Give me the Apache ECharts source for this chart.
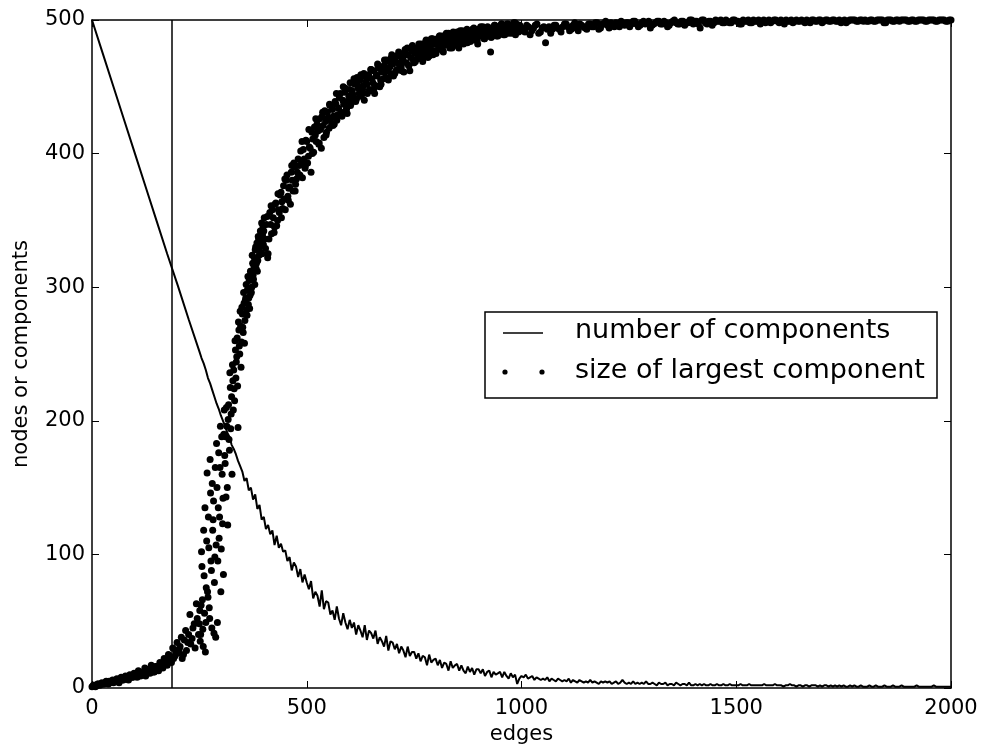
<!DOCTYPE html>
<html>
<head>
<meta charset="utf-8">
<script src="https://cdn.jsdelivr.net/npm/echarts@6/dist/echarts.min.js"></script>
<style>
html,body{margin:0;padding:0;background:#fff;overflow:hidden;}
#chart{width:984px;height:746px;}
</style>
</head>
<body>
<div id="chart"></div>
<script>
// ---- data ----
// x axis: edges; y axis: nodes or components
var xTicks = [0, 500, 1000, 1500, 2000];
var yTicks = [0, 100, 200, 300, 400, 500];
var thresholdEdges = 186;

// number of components, edges 0..225 sampled every 25 edges
var compHeadStart = 0, compHeadStep = 25;
var compHead = [500, 475, 450, 425, 400, 375, 350, 325, 301, 276];
// number of components, edges 250..2000 sampled every 5 edges
var compTailStart = 250, compTailStep = 5;
var compTail = [
  252,247,243,238,232,228,223,218,213,209,
  204,200,196,191,188,182,179,175,170,166,
  162,155,157,148,150,141,145,134,137,126,
  128,119,122,115,118,107,114,105,108,102,
  103,95,98,88,94,91,83,89,79,85,
  79,74,80,67,72,69,61,73,59,65,
  64,55,58,51,61,52,47,56,49,44,
  51,45,49,40,47,43,38,47,36,43,
  41,37,43,33,38,35,31,39,28,35,
  34,29,33,26,31,28,23,31,24,27,
  27,22,26,20,24,23,17,25,19,21,
  22,17,21,15,19,18,13,20,15,17,
  18,13,17,13,11,16,12,15,10,14,
  14,11,14,9,12,13,8,12,10,11,
  12,8,12,9,7,11,8,10,3,7,
  9,8,10,7,8,9,6,8,7,6,
  7,6,8,5,7,6,5,7,6,5,
  6,5,7,4,6,5,4,6,5,4,
  5,4,6,4,5,4,3,5,4,5,
  4,5,3,4,5,3,4,6,4,3,
  4,3,5,3,4,3,4,3,5,3,
  3,4,3,2,4,3,3,4,2,3,
  3,2,4,3,2,3,3,2,4,2,
  2,3,2,3,2,3,2,2,3,2,
  2,3,2,2,3,2,2,3,2,2,
  2,2,3,2,2,2,3,2,2,2,
  2,2,2,3,2,2,2,2,3,2,
  2,2,1,2,2,3,2,2,1,2,
  2,1,2,2,1,2,2,2,1,2,
  1,2,2,1,2,1,2,1,2,1,
  2,1,1,2,1,2,1,1,2,1,
  1,1,2,1,1,2,1,1,1,2,
  1,1,1,2,1,1,1,2,1,1,
  1,1,1,1,2,1,1,1,1,1,
  1,1,2,1,1,1,1,1,1,1,1
];

// size of largest component, edges 0..245 every 5
var largestAStart = 0, largestAStep = 5;
var largestA = [
  1,2,2,3,3,3,4,4,5,5,
  4,6,5,7,6,8,7,6,9,8,
  9,8,11,10,12,9,13,11,14,12,
  16,13,18,15,20,17,24,19,22,28,
  26,31,22,36,28,40,33,45,30,52
];
// edges 3..248 every 5
var largestA2Start = 3, largestA2Step = 5;
var largestA2 = [
  2,1,3,2,4,3,5,3,4,6,
  5,7,4,8,6,9,7,10,8,11,
  10,13,9,12,15,11,14,17,12,16,
  14,19,16,22,18,25,21,30,24,34,
  29,38,25,43,34,55,37,48,63,40
];
// edges 250..398 every 2
var largestBStart = 250, largestBStep = 2;
var largestB = [
  48,35,62,91,44,118,56,27,75,161,
  68,105,52,146,88,153,126,41,98,38,
  183,49,135,112,165,72,188,123,85,208,
  168,143,196,122,212,178,225,205,160,230,
  238,215,253,244,262,195,268,250,271,259,
  280,266,288,275,292,283,298,287,305,294,
  312,300,318,306,322,328,314,333,320,336,
  330,342,334,325,345
];
// edges 251..399 every 2
var largestB2Start = 251, largestB2Step = 2;
var largestB2 = [
  58,40,102,66,31,84,135,49,110,72,
  128,60,171,95,45,118,140,79,165,107,
  150,95,176,128,196,104,160,142,190,174,
  188,210,150,201,186,236,194,218,242,208,
  224,260,232,248,226,274,256,282,240,285,
  270,296,258,290,302,279,308,292,284,312,
  296,324,309,316,302,330,318,312,338,324,
  338,326,348,339,332
];
// edges 400..996 every 4
var largestCStart = 400, largestCStep = 4;
var largestC = [
  342,329,353,336,347,358,341,363,350,356,
  371,359,366,380,368,375,386,372,390,381,
  396,384,392,403,389,409,398,404,416,401,
  414,422,407,418,428,412,424,431,419,426,
  433,422,437,429,442,431,440,446,433,439,
  448,438,444,452,441,449,455,444,451,458,
  452,459,447,456,462,451,458,464,455,461,
  466,457,463,469,460,467,472,462,468,473,
  465,471,476,468,474,462,477,470,475,479,
  472,477,481,474,479,483,476,480,484,477,
  482,486,479,484,488,481,485,489,483,487,
  484,489,486,482,490,487,485,491,488,486,
  491,488,492,486,490,493,489,491,494,488,
  492,490,476,493,491,495,489,494,492,490,
  495,492,494,496,491,495,493,497,494,496
];
// edges 402..998 every 4
var largestC2Start = 402, largestC2Step = 4;
var largestC2 = [
  336,347,325,356,340,352,362,346,358,369,
  364,376,358,384,374,362,380,393,377,386,
  391,402,382,396,410,393,405,386,411,420,
  409,417,426,404,421,432,416,427,436,422,
  428,439,425,434,445,428,437,449,430,443,
  436,447,456,439,452,445,459,448,440,454,
  457,448,463,453,445,459,466,450,462,456,
  461,470,455,465,474,458,469,463,476,466,
  470,461,474,479,466,472,481,468,476,471,
  475,482,469,478,485,472,480,486,474,482,
  485,478,488,483,476,487,482,490,485,479,
  488,483,491,479,486,492,484,489,483,490,
  487,493,485,490,482,492,488,495,486,491,
  489,494,487,492,496,488,493,490,497,489,
  493,497,490,495,492,498,489,494,496,492
];
// edges 401..993 every 8
var largestC3Start = 401, largestC3Step = 8;
var largestC3 = [
  352,322,361,345,370,352,381,365,391,372,
  383,409,391,418,400,426,408,431,414,437,
  421,445,429,450,434,453,440,457,443,460,
  445,463,449,467,452,470,456,472,460,474,
  462,478,466,480,469,482,471,484,473,486,
  475,488,477,490,479,491,481,492,482,493,
  484,494,485,495,486,495,487,496,488,497,
  489,497,490,498,491
];
// edges 1000..2000 every 8
var largestDStart = 1000, largestDStep = 8;
var largestD = [
  494,491,495,492,496,490,494,483,495,493,
  496,493,495,497,492,496,494,497,495,493,
  497,495,498,494,497,496,498,495,497,499,
  496,498,497,499,495,498,497,499,496,498,
  499,497,498,496,499,498,497,499,498,500,
  497,499,494,500,497,499,498,499,500,498,
  499,498,500,499,497,499,500,498,499,500,
  499,498,500,499,500,498,499,500,499,498,
  500,499,499,500,498,500,499,500,499,500,
  499,500,499,498,500,499,500,500,499,500,
  500,499,500,499,500,500,498,500,499,500,
  499,500,500,499,500,499,500,500,499,500,
  500,499,500,500,499,500
];
// edges 1004..1996 every 8
var largestD2Start = 1004, largestD2Step = 8;
var largestD2 = [
  492,496,489,494,497,491,495,493,490,496,
  494,491,497,495,493,498,492,496,494,497,
  495,498,493,497,499,494,496,498,495,497,
  498,495,499,497,496,499,498,494,497,499,
  497,499,495,498,500,497,499,496,498,500,
  499,497,500,498,499,496,500,499,498,500,
  498,500,499,497,500,499,498,500,499,497,
  500,499,498,500,499,500,497,499,500,499,
  499,500,498,499,500,499,500,498,500,499,
  500,499,500,499,498,500,500,499,500,499,
  499,500,499,500,500,498,500,500,499,500,
  500,500,499,500,499,500,500,499,500,500,
  499,500,500,499,500
];

function toPairs(start, step, vals) {
  return vals.map(function (v, i) { return [start + i * step, v]; });
}

var compData = toPairs(compHeadStart, compHeadStep, compHead)
  .concat(toPairs(compTailStart, compTailStep, compTail));
var largestData = []
  .concat(toPairs(largestAStart, largestAStep, largestA))
  .concat(toPairs(largestA2Start, largestA2Step, largestA2))
  .concat(toPairs(largestBStart, largestBStep, largestB))
  .concat(toPairs(largestB2Start, largestB2Step, largestB2))
  .concat(toPairs(largestCStart, largestCStep, largestC))
  .concat(toPairs(largestC2Start, largestC2Step, largestC2))
  .concat(toPairs(largestC3Start, largestC3Step, largestC3))
  .concat(toPairs(largestDStart, largestDStep, largestD))
  .concat(toPairs(largestD2Start, largestD2Step, largestD2));

var FONT = '"DejaVu Sans", "Liberation Sans", sans-serif';
var chart = echarts.init(document.getElementById('chart'), null, {renderer: 'canvas', width: 984, height: 746});

function plain(v) { return String(v); }

function axisCommon(extra) {
  var base = {
    type: 'value',
    splitLine: {show: false},
    axisLine: {show: true, onZero: false, lineStyle: {color: '#000', width: 1.5}},
    axisTick: {show: true, inside: true, length: 7, lineStyle: {color: '#000', width: 1}},
    axisLabel: {show: true, color: '#000', fontSize: 21, fontFamily: FONT, margin: 9, formatter: plain}
  };
  for (var k in extra) base[k] = extra[k];
  return base;
}

var option = {
  animation: false,
  backgroundColor: '#fff',
  grid: {left: 92, top: 20, width: 859, height: 668, containLabel: false, outerBoundsMode: 'none'},
  xAxis: [
    axisCommon({min: xTicks[0], max: xTicks[xTicks.length - 1], interval: xTicks[1] - xTicks[0],
      position: 'bottom', name: 'edges', nameLocation: 'middle', nameGap: 30,
      axisLabel: {show: true, color: '#000', fontSize: 21, fontFamily: FONT, margin: 10, formatter: plain},
      nameTextStyle: {color: '#000', fontSize: 21, fontFamily: FONT}}),
    axisCommon({min: xTicks[0], max: xTicks[xTicks.length - 1], interval: xTicks[1] - xTicks[0],
      position: 'top', axisLabel: {show: false}})
  ],
  yAxis: [
    axisCommon({min: yTicks[0], max: yTicks[yTicks.length - 1], interval: yTicks[1] - yTicks[0],
      position: 'left', name: 'nodes or components', nameLocation: 'middle', nameGap: 60,
      axisLabel: {show: true, color: '#000', fontSize: 21, fontFamily: FONT, margin: 7, formatter: plain},
      nameTextStyle: {color: '#000', fontSize: 21, fontFamily: FONT}}),
    axisCommon({min: yTicks[0], max: yTicks[yTicks.length - 1], interval: yTicks[1] - yTicks[0],
      position: 'right', axisLabel: {show: false}})
  ],
  series: [
    {
      name: 'number of components',
      type: 'line',
      xAxisIndex: 0, yAxisIndex: 0,
      data: compData,
      showSymbol: false,
      symbol: 'none',
      lineStyle: {color: '#000', width: 2},
      z: 2,
      markLine: {
        silent: true,
        symbol: ['none', 'none'],
        label: {show: false},
        lineStyle: {color: '#000', width: 1.5, type: 'solid'},
        data: [{xAxis: thresholdEdges}]
      }
    },
    {
      name: 'size of largest component',
      type: 'scatter',
      xAxisIndex: 0, yAxisIndex: 0,
      data: largestData,
      symbol: 'circle',
      symbolSize: 7,
      itemStyle: {color: '#000', opacity: 1},
      large: false,
      z: 3
    }
  ],
  graphic: [
    {type: 'rect', z: 100, shape: {x: 485, y: 312, width: 452, height: 86},
      style: {fill: '#fff', stroke: '#000', lineWidth: 1.5}},
    {type: 'line', z: 101, shape: {x1: 503, y1: 333, x2: 543, y2: 333},
      style: {stroke: '#000', lineWidth: 1.5}},
    {type: 'circle', z: 101, shape: {cx: 505, cy: 372, r: 2.6}, style: {fill: '#000'}},
    {type: 'circle', z: 101, shape: {cx: 542, cy: 372, r: 2.6}, style: {fill: '#000'}},
    {type: 'text', z: 101, x: 575, y: 331,
      style: {text: 'number of components', font: '27px ' + FONT, fill: '#000', verticalAlign: 'middle'}},
    {type: 'text', z: 101, x: 575, y: 371,
      style: {text: 'size of largest component', font: '27px ' + FONT, fill: '#000', verticalAlign: 'middle'}}
  ]
};
chart.setOption(option);
</script>
</body>
</html>
